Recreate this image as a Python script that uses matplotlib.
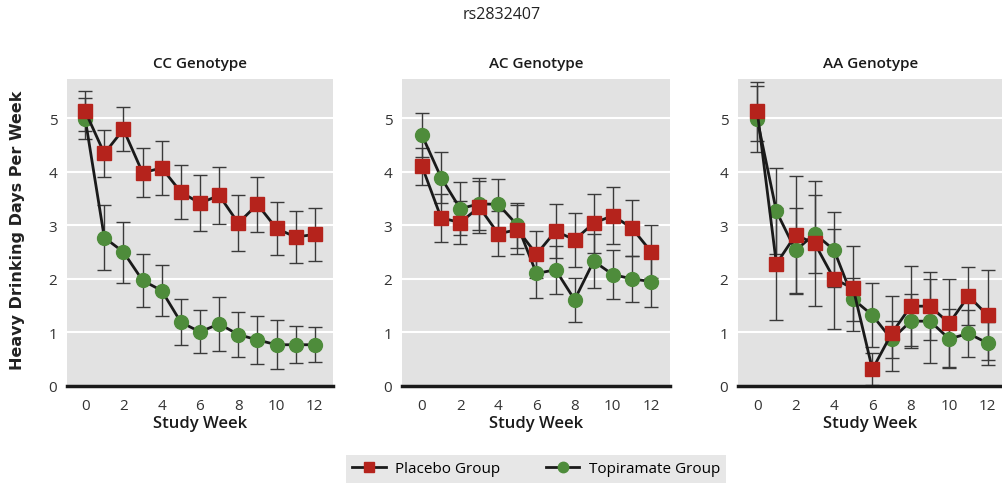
import matplotlib
matplotlib.use("Agg")
import matplotlib.pyplot as plt
import numpy as np

plt.rcParams['font.family'] = ['Open Sans', 'DejaVu Sans']

# semanas de estudio
semanas = np.arange(0, 13)

# ---------------- CC Genotype ----------------
cc_placebo = [5.13, 4.34, 4.79, 3.98, 4.07, 3.62, 3.41, 3.56, 3.04, 3.39, 2.94, 2.78, 2.83]
cc_placebo_err = [0.37, 0.43, 0.41, 0.46, 0.50, 0.50, 0.52, 0.53, 0.52, 0.52, 0.49, 0.48, 0.50]
cc_topir = [4.99, 2.77, 2.50, 1.97, 1.78, 1.19, 1.01, 1.16, 0.96, 0.86, 0.77, 0.77, 0.77]
cc_topir_err = [0.38, 0.61, 0.57, 0.50, 0.48, 0.43, 0.40, 0.50, 0.42, 0.45, 0.46, 0.35, 0.33]

# ---------------- AC Genotype ----------------
ac_placebo = [4.10, 3.14, 3.05, 3.34, 2.84, 2.92, 2.46, 2.89, 2.73, 3.04, 3.18, 2.95, 2.51]
ac_placebo_err = [0.34, 0.45, 0.40, 0.48, 0.42, 0.45, 0.44, 0.50, 0.50, 0.55, 0.53, 0.53, 0.50]
ac_topir = [4.68, 3.89, 3.31, 3.40, 3.39, 3.00, 2.10, 2.17, 1.61, 2.33, 2.08, 2.00, 1.95]
ac_topir_err = [0.41, 0.47, 0.50, 0.48, 0.48, 0.42, 0.45, 0.45, 0.41, 0.50, 0.46, 0.43, 0.48]

# ---------------- AA Genotype ----------------
aa_placebo = [5.13, 2.28, 2.82, 2.66, 2.00, 1.82, 0.31, 0.98, 1.49, 1.49, 1.17, 1.68, 1.32]
aa_placebo_err = [0.55, 1.05, 1.10, 1.17, 0.93, 0.80, 0.30, 0.70, 0.75, 0.63, 0.82, 0.55, 0.84]
aa_topir = [4.98, 3.26, 2.53, 2.84, 2.54, 1.62, 1.32, 0.87, 1.21, 1.21, 0.88, 0.98, 0.80]
aa_topir_err = [0.62, 0.80, 0.80, 0.73, 0.70, 0.40, 0.60, 0.35, 0.50, 0.78, 0.55, 0.43, 0.40]

titulos = ['CC Genotype', 'AC Genotype', 'AA Genotype']
datos = [
    (cc_placebo, cc_placebo_err, cc_topir, cc_topir_err),
    (ac_placebo, ac_placebo_err, ac_topir, ac_topir_err),
    (aa_placebo, aa_placebo_err, aa_topir, aa_topir_err),
]

rojo = '#b5231c'
verde = '#4e8c3b'
fondo = '#e2e2e2'

fig = plt.figure(figsize=(10.03, 4.85), dpi=100)

# posiciones de los paneles (en fraccion de figura)
posiciones = [
    [67/1003, 98/485, 266/1003, 307/485],
    [402/1003, 98/485, 268/1003, 307/485],
    [738/1003, 98/485, 265/1003, 307/485],
]
limites_x = [(-0.95, 12.95), (-1.05, 13.0), (-1.0, 12.8)]

for i in range(3):
    ax = fig.add_axes(posiciones[i])
    ax.set_facecolor(fondo)
    plac, plac_err, top, top_err = datos[i]

    # grupo topiramato primero (queda debajo)
    ax.errorbar(semanas, top, yerr=top_err, fmt='none', ecolor='#3a3a3a',
                elinewidth=1.0, capsize=5, capthick=1.0, zorder=2)
    ax.errorbar(semanas, plac, yerr=plac_err, fmt='none', ecolor='#3a3a3a',
                elinewidth=1.0, capsize=5, capthick=1.0, zorder=2)
    ax.plot(semanas, top, color='#1a1a1a', linewidth=2, marker='o', markersize=10,
            markerfacecolor=verde, markeredgecolor=verde, zorder=3, label='Topiramate Group')
    ax.plot(semanas, plac, color='#1a1a1a', linewidth=2, marker='s', markersize=9.5,
            markerfacecolor=rojo, markeredgecolor=rojo, zorder=4, label='Placebo Group')

    ax.set_xlim(limites_x[i])
    ax.set_ylim(0, 5.73)
    ax.set_xticks([0, 2, 4, 6, 8, 10, 12])
    ax.set_yticks([0, 1, 2, 3, 4, 5])
    ax.tick_params(length=0, labelsize=11, labelcolor='#333333')
    ax.tick_params(axis='x', pad=9)
    ax.tick_params(axis='y', pad=7)
    ax.grid(axis='y', color='white', linewidth=1.5, zorder=1)
    ax.set_axisbelow(True)
    for lado in ['top', 'right', 'left']:
        ax.spines[lado].set_visible(False)
    ax.spines['bottom'].set_linewidth(2.5)
    ax.spines['bottom'].set_color('#1a1a1a')
    ax.spines['bottom'].set_zorder(5)

    ax.set_title(titulos[i], fontsize=11, fontweight='semibold', color='#1a1a1a', pad=9)
    ax.set_xlabel('Study Week', fontsize=12, fontweight='semibold', color='#1a1a1a', labelpad=1)

    if i == 0:
        handles, labels = ax.get_legend_handles_labels()

fig.text(18/1003, 1 - 230/485, 'Heavy Drinking Days Per Week', rotation=90,
         ha='center', va='center', fontsize=11.5, fontweight='bold', color='#222222',
         family=['DejaVu Sans'])
fig.text(0.5, 1 - 15/485, 'rs2832407', ha='center', va='center', fontsize=11.5, color='#222222')

leg = fig.legend(handles[::-1], labels[::-1], loc='center', bbox_to_anchor=(536/1003, 1 - 470/485),
                 ncol=2, frameon=True, fancybox=False, facecolor=fondo, edgecolor=fondo,
                 fontsize=11, columnspacing=3.0, handlelength=2.2, handletextpad=0.6,
                 borderpad=0.4, borderaxespad=0.0, markerscale=0.75)
leg.get_frame().set_linewidth(0)

plt.savefig('out.png', dpi=100)
